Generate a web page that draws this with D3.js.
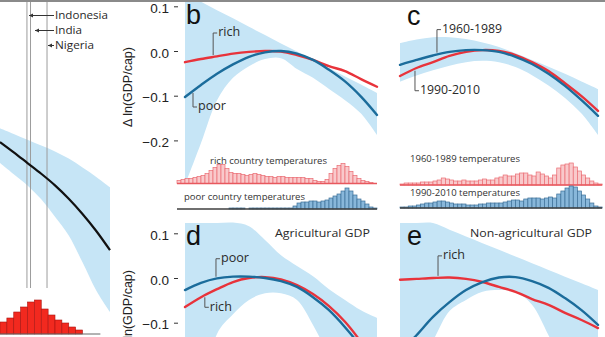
<!DOCTYPE html>
<html><head><meta charset="utf-8">
<script src="https://cdn.jsdelivr.net/npm/d3@7"></script>
<style>html,body{margin:0;padding:0;background:#fff;overflow:hidden}svg{display:block}</style>
</head><body><svg id="chart" width="605" height="337"></svg>
<script>
// ---- data ---------------------------------------------------------------
// temperature grid (°C) for the response curves of panels b–e
const temps = [0, 2.5, 5, 7.5, 10, 12.5, 15, 17.5, 20, 22.5, 25, 27.5, 30];

// b: rich vs poor countries
const richB  = [-0.025,-0.018,-0.012,-0.006,-0.002,0.000,-0.001,-0.009,-0.020,-0.034,-0.045,-0.063,-0.080];
const poorB  = [-0.103,-0.076,-0.051,-0.030,-0.013,-0.003,0.000,-0.006,-0.020,-0.042,-0.068,-0.102,-0.143];
const bandBHi = [0.128,0.110,0.091,0.073,0.054,0.036,0.017,-0.001,-0.020,-0.038,-0.057,-0.075,-0.094];
const bandBLo = [-0.300,-0.206,-0.110,-0.060,-0.034,-0.018,-0.016,-0.040,-0.060,-0.085,-0.110,-0.140,-0.188];

// c: early vs late period
const early = [-0.031,-0.020,-0.010,-0.002,0.002,0.002,-0.002,-0.013,-0.029,-0.051,-0.078,-0.110,-0.145];
const late  = [-0.056,-0.038,-0.025,-0.011,-0.002,0.002,0.000,-0.009,-0.025,-0.045,-0.072,-0.101,-0.134];
const bandCHi = [0.018,0.026,0.031,0.031,0.027,0.019,0.009,-0.005,-0.020,-0.035,-0.051,-0.068,-0.085];
const bandCLo = [-0.069,-0.055,-0.043,-0.033,-0.025,-0.022,-0.025,-0.036,-0.054,-0.077,-0.105,-0.140,-0.188];

// d: agricultural GDP
const poorD = [-0.027,-0.011,-0.001,0.003,0.003,0.000,-0.007,-0.020,-0.043,-0.072,-0.110,-0.154,-0.206];
const richD = [-0.065,-0.043,-0.025,-0.009,0.000,0.002,-0.003,-0.016,-0.036,-0.063,-0.098,-0.143,-0.195];
const bandDHi = [0.123,0.123,0.123,0.124,0.116,0.085,0.051,0.027,0.004,-0.025,-0.049,-0.072,-0.089];
const bandDLo = [-0.500,-0.300,-0.125,-0.081,-0.049,-0.034,-0.034,-0.049,-0.105,-0.175,-0.250,-0.300,-0.350];

// e: non-agricultural GDP
const richE = [-0.004,-0.002,0.000,0.001,-0.002,-0.009,-0.020,-0.031,-0.047,-0.060,-0.078,-0.094,-0.112];
const poorE = [-0.166,-0.128,-0.087,-0.054,-0.027,-0.009,0.001,0.002,-0.007,-0.022,-0.045,-0.072,-0.105];
const bandEHi = [0.123,0.123,0.123,0.108,0.093,0.078,0.063,0.048,0.033,0.018,0.003,-0.012,-0.027];
const bandELo = [-0.300,-0.200,-0.140,-0.074,-0.049,-0.031,-0.027,-0.031,-0.060,-0.128,-0.200,-0.250,-0.300];

// temperature distributions (share of observations per 0.625 °C bin)
const binWidth = 0.625;
const histStartB = -1.25, histStartC = 0;
const richTemps = [3,4,5,5,6,7,8,10,13,16,19,19,15,11,10,10,9,8,9,10,9,8,7,7,6,7,7,6,6,6,6,6,5,5,3,2,2,4,10,15,18,20,17,12,8,5,3,2,1,0];
const poorTemps = [0,0,0,0,0,0,0,0,0,0,0,0,0,1,1,1,1,0,1,1,1,1,1,1,1,1,1,1,1,3,6,7,7,8,8,7,8,9,11,13,15,18,21,18,14,10,8,5,2,1];
const earlyTemps = [1,2,2,2,2,3,3,3,4,5,7,6,5,4,4,5,4,4,4,5,6,5,5,7,8,10,9,9,11,12,12,10,9,13,11,9,7,10,17,20,21,22,18,14,10,7,4,2,1];
const lateTemps  = [1,1,2,2,3,4,5,5,6,7,7,6,5,4,4,4,3,3,3,4,4,5,5,5,5,6,7,8,8,7,9,10,10,10,9,10,11,10,14,17,20,22,21,17,13,9,5,2,1];

// a: global response, right-hand end
const aTemps = [22,23,24,25,26,27,28,29,30];
const aCurve = [-0.273,-0.296,-0.320,-0.344,-0.370,-0.400,-0.434,-0.472,-0.515];
const aHi    = [-0.242,-0.255,-0.268,-0.281,-0.294,-0.310,-0.330,-0.351,-0.374];
const aLo    = [-0.320,-0.345,-0.370,-0.401,-0.440,-0.482,-0.542,-0.605,-0.653];
const aHistStart = 22, aBin = 0.5;
const aHist = [12,16,22,27,32,34,25,19,14,11,7,4];
const countries = [
  {name:"Indonesia", t:24.22},
  {name:"India", t:23.96},
  {name:"Nigeria", t:25.42}
];

const yTicks = [0.1, 0.0, -0.1, -0.2];

// ---- drawing ------------------------------------------------------------
const W = 605, H = 337;
const BAND = "#c6e5f6", RED = "#e8333b", BLUE = "#1b6c9b";
const svg = d3.select("#chart");
svg.append("rect").attr("width", W).attr("height", H).attr("fill", "#fff");

const xB = d3.scaleLinear().domain([0, 30]).range([185, 377]);
const xC = d3.scaleLinear().domain([0, 30]).range([400, 598]);
const yTop = d3.scaleLinear().domain([0, -0.1]).range([51, 95.7]);
const yBot = d3.scaleLinear().domain([0, -0.1]).range([278, 322.7]);
const hScale = d3.scaleLinear().domain([0, 25]).range([0, 25]);

const defs = svg.append("defs");
defs.append("clipPath").attr("id", "clipTop").append("rect")
  .attr("x", 0).attr("y", 0).attr("width", W).attr("height", 181);
defs.append("clipPath").attr("id", "clipBot").append("rect")
  .attr("x", 0).attr("y", 213).attr("width", W).attr("height", H - 213);

function valAt(arr, t) {
  const i = Math.min(temps.length - 2, Math.floor(t / 2.5));
  const f = (t - temps[i]) / 2.5;
  return arr[i] + (arr[i + 1] - arr[i]) * f;
}

function drawBand(g, x, y, hi, lo) {
  g.append("path").datum(temps)
    .attr("fill", BAND)
    .attr("d", d3.area().curve(d3.curveCatmullRom.alpha(0.5))
      .x(t => x(t)).y1((t, i) => y(hi[i])).y0((t, i) => y(lo[i])));
}
function drawCurve(g, x, y, vals, color) {
  g.append("path").datum(vals)
    .attr("fill", "none").attr("stroke", color).attr("stroke-width", 2.4)
    .attr("stroke-linecap", "round")
    .attr("d", d3.line().curve(d3.curveCatmullRom.alpha(0.5))
      .x((d, i) => x(temps[i])).y(d => y(d)));
}
function drawHist(g, x, start, counts, base, fill, stroke, baseColor) {
  const gg = g.append("g");
  gg.selectAll("rect").data(counts).join("rect")
    .attr("x", (d, i) => x(start + i * binWidth))
    .attr("width", (d, i) => x(start + (i + 1) * binWidth) - x(start + i * binWidth))
    .attr("y", d => base - hScale(d))
    .attr("height", d => hScale(d))
    .attr("fill", fill).attr("stroke", stroke).attr("stroke-width", 0.7);
  gg.append("line")
    .attr("x1", x(start)).attr("x2", x(start + counts.length * binWidth))
    .attr("y1", base).attr("y2", base)
    .attr("stroke", baseColor).attr("stroke-width", 1.6);
}
function smallLabel(g, text, x, y, len) {
  g.append("text").text(text).attr("x", x).attr("y", y)
    .attr("dominant-baseline", "middle")
    .attr("font-family", "Open Sans, Noto Sans, sans-serif").attr("font-size", 9.5)
    .attr("fill", "#333").attr("textLength", len).attr("lengthAdjust", "spacingAndGlyphs");
}
// bracket from the curve at temperature t to a label placed dy pixels away
function bracket(g, x, y, vals, t, dy, text, len) {
  const x0 = x(t), yc = y(valAt(vals, t));
  const y1 = yc + dy;
  const gap = dy < 0 ? -2 : 2;
  g.append("path")
    .attr("d", `M${x0},${yc + gap}V${y1}H${x0 + 4}`)
    .attr("fill", "none").attr("stroke", "#555").attr("stroke-width", 1);
  g.append("text").text(text).attr("x", x0 + 5).attr("y", y1)
    .attr("dominant-baseline", "middle")
    .attr("font-family", "Open Sans, Noto Sans, sans-serif").attr("font-size", 12.5)
    .attr("fill", "#2a2a2a").attr("textLength", len).attr("lengthAdjust", "spacingAndGlyphs");
}
function letter(g, ch, x, y) {
  g.append("text").text(ch).attr("x", x).attr("y", y)
    .attr("font-family", "Liberation Sans, Arial, sans-serif").attr("font-size", 27)
    .attr("fill", "#111");
}
function yAxis(y, ticks, cy) {
  const ax = d3.axisLeft(y).tickValues(ticks).tickSize(4).tickPadding(5)
    .tickFormat(d3.format(".1f"));
  const g = svg.append("g").attr("transform", "translate(178,0)").call(ax);
  g.select(".domain").remove();
  g.selectAll(".tick line").attr("stroke", "#333");
  g.selectAll(".tick text").attr("font-family", "Liberation Sans, Arial, sans-serif")
    .attr("font-size", 13.5).attr("fill", "#222").attr("dy", "0.45em");
  svg.append("text").text("Δ ln(GDP/cap)")
    .attr("transform", `translate(132,${cy}) rotate(-90)`)
    .attr("text-anchor", "middle")
    .attr("font-family", "Liberation Sans, Arial, sans-serif").attr("font-size", 12.5)
    .attr("fill", "#222");
}

// panel a (partially visible on the left)
const xA = d3.scaleLinear().domain([22, 30]).range([0, 110]);
const yA = d3.scaleLinear().domain([0, -0.5]).range([20, 243.5]);
const gA = svg.append("g");
gA.append("path").datum(aTemps).attr("fill", BAND)
  .attr("d", d3.area().curve(d3.curveCatmullRom.alpha(0.5))
    .x(t => xA(t)).y1((t, i) => yA(aHi[i])).y0((t, i) => yA(aLo[i])));
countries.forEach(c => {
  gA.append("line").attr("x1", xA(c.t)).attr("x2", xA(c.t)).attr("y1", 0).attr("y2", 288)
    .attr("stroke", "#9c9c9c").attr("stroke-width", 1);
});
gA.append("path").datum(aCurve).attr("fill", "none").attr("stroke", "#111").attr("stroke-width", 2.2)
  .attr("d", d3.line().curve(d3.curveCatmullRom.alpha(0.5)).x((d, i) => xA(aTemps[i])).y(d => yA(d)));
gA.selectAll("rect.h").data(aHist).join("rect").attr("class", "h")
  .attr("x", (d, i) => xA(aHistStart + i * aBin))
  .attr("width", xA(aBin) - xA(0))
  .attr("y", d => 334 - d).attr("height", d => d)
  .attr("fill", "#f2291f").attr("stroke", "#a81512").attr("stroke-width", 0.6);
gA.append("line").attr("x1", xA(aHistStart)).attr("x2", xA(29.3)).attr("y1", 334).attr("y2", 334)
  .attr("stroke", "#666").attr("stroke-width", 1);
// country callouts
const callouts = [
  {c: countries[0], y: 16, from: 29, len: 53},
  {c: countries[1], y: 31, from: 35, len: 27},
  {c: countries[2], y: 46, from: 48, len: 39}
];
callouts.forEach(o => {
  gA.append("line").attr("x1", o.from).attr("x2", 54).attr("y1", o.y - 0.5).attr("y2", o.y - 0.5)
    .attr("stroke", "#333").attr("stroke-width", 1);
  gA.append("path").attr("d", `M${o.from},${o.y - 0.5}l4,-2v4z`).attr("fill", "#333");
  gA.append("text").text(o.c.name).attr("x", 55).attr("y", o.y)
    .attr("dominant-baseline", "middle")
    .attr("font-family", "Open Sans, Noto Sans, sans-serif").attr("font-size", 11)
    .attr("fill", "#2a2a2a").attr("textLength", o.len).attr("lengthAdjust", "spacingAndGlyphs");
});

// panel b
const gB = svg.append("g");
drawBand(gB.append("g").attr("clip-path", "url(#clipTop)"), xB, yTop, bandBHi, bandBLo);
drawHist(gB, xB, histStartB, richTemps, 183.5, "#f9c9cb", "#ea6b72", "#e8585e");
drawHist(gB, xB, histStartB, poorTemps, 209, "#88b7da", "#3c6f97", "#3f3f3f");
smallLabel(gB, "rich country temperatures", 210, 161, 117);
smallLabel(gB, "poor country temperatures", 184, 197, 121);
drawCurve(gB, xB, yTop, richB, RED);
drawCurve(gB, xB, yTop, poorB, BLUE);
bracket(gB, xB, yTop, richB, 4.4, -24, "rich", 22);
bracket(gB, xB, yTop, poorB, 1.25, 16, "poor", 28);
letter(gB, "b", 186, 24);

// panel c
const gC = svg.append("g");
drawBand(gC.append("g").attr("clip-path", "url(#clipTop)"), xC, yTop, bandCHi, bandCLo);
drawHist(gC, xC, histStartC, earlyTemps, 185, "#f9c9cb", "#ea6b72", "#e8585e");
drawHist(gC, xC, histStartC, lateTemps, 208, "#88b7da", "#3c6f97", "#3f3f3f");
smallLabel(gC, "1960-1989 temperatures", 410, 159, 110);
smallLabel(gC, "1990-2010 temperatures", 410, 193, 110);
drawCurve(gC, xC, yTop, late, RED);
drawCurve(gC, xC, yTop, early, BLUE);
bracket(gC, xC, yTop, early, 5.6, -25, "1960-1989", 60);
bracket(gC, xC, yTop, late, 2.27, 22, "1990-2010", 60);
letter(gC, "c", 407, 25);

// panel d
const gD = svg.append("g");
drawBand(gD.append("g").attr("clip-path", "url(#clipBot)"), xB, yBot, bandDHi, bandDLo);
const gDc = gD.append("g").attr("clip-path", "url(#clipBot)");
drawCurve(gDc, xB, yBot, richD, RED);
drawCurve(gDc, xB, yBot, poorD, BLUE);
bracket(gD, xB, yBot, poorD, 4.84, -20, "poor", 28);
bracket(gD, xB, yBot, richD, 3.1, 12, "rich", 22);
letter(gD, "d", 186, 245);
gD.append("text").text("Agricultural GDP").attr("x", 275).attr("y", 234)
  .attr("dominant-baseline", "middle")
  .attr("font-family", "Open Sans, Noto Sans, sans-serif").attr("font-size", 11.5)
  .attr("fill", "#2a2a2a").attr("textLength", 95).attr("lengthAdjust", "spacingAndGlyphs");

// panel e
const gE = svg.append("g");
drawBand(gE.append("g").attr("clip-path", "url(#clipBot)"), xC, yBot, bandEHi, bandELo);
const gEc = gE.append("g").attr("clip-path", "url(#clipBot)");
drawCurve(gEc, xC, yBot, richE, RED);
drawCurve(gEc, xC, yBot, poorE, BLUE);
bracket(gE, xC, yBot, richE, 5.76, -22, "rich", 22);
letter(gE, "e", 407, 245);
gE.append("text").text("Non-agricultural GDP").attr("x", 470).attr("y", 234)
  .attr("dominant-baseline", "middle")
  .attr("font-family", "Open Sans, Noto Sans, sans-serif").attr("font-size", 11.5)
  .attr("fill", "#2a2a2a").attr("textLength", 122).attr("lengthAdjust", "spacingAndGlyphs");

// shared y axes
yAxis(yTop, yTicks, 87);
yAxis(yBot, yTicks.slice(0, 3), 310);

// dark strip along the top edge
svg.append("rect").attr("x", 0).attr("y", 0).attr("width", W).attr("height", 2).attr("fill", "#8a8a8a");
</script></body></html>
